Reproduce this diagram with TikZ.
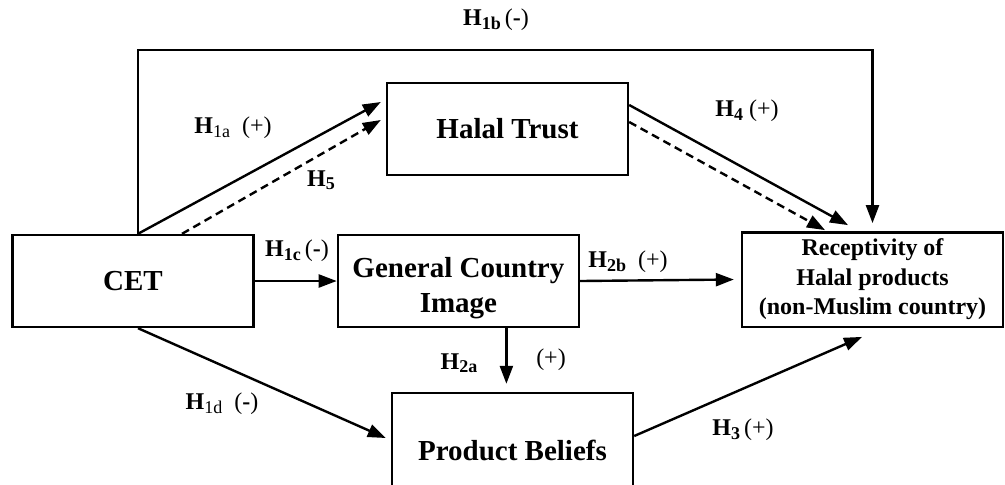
\documentclass[tikz,border=0pt]{standalone}
\usepackage{fontspec}
\setmainfont{Liberation Serif}
\usetikzlibrary{arrows.meta, positioning}

\newcommand{\hlab}[1]{\textbf{H}\raisebox{-0.3ex}{\fontsize{9}{9}\selectfont #1}}

\begin{document}
\begin{tikzpicture}[x=0.5pt, y=-0.5pt, >={Triangle[length=9pt,width=6.5pt]},
line width=1.2pt,
main box/.style={
rectangle,
draw,
minimum width=120.5pt,
minimum height=46pt,
align=center,
font=\fontsize{14.5}{17.5}\selectfont\bfseries
},
outcome box/.style={
rectangle,
draw,
minimum width=130.5pt,
minimum height=46.5pt,
align=center,
font=\fontsize{12}{14.75}\selectfont\bfseries
},
hyp label/.style={font=\fontsize{12}{14}\selectfont, inner sep=0pt},
dashed link/.style={dash pattern=on 4pt off 2.5pt}
]

\clip (0,0) rectangle (1005,484);

\node[main box] (cet) at (133,281) {CET};
\node[main box] (gci) [right=41pt of cet] {\rule{0pt}{17pt}General Country\\Image};
\node[main box] (halal) at (507.5,129) {Halal Trust};
\node[main box, minimum height=57pt] (pb) at (512.5,450) {Product Beliefs};
\node[outcome box] (rec) at (872.5,279.5) {Receptivity of\\Halal products\\(non-Muslim country)};

\coordinate (h1b top) at (500,50);
\coordinate (h2a start) at ([xshift=24pt]gci.south);

\node[hyp label] (l1b) at (496,20) {\hlab{\bfseries 1b}\,(\textbf{-})};
\node[hyp label] (l1a) at (233,128) {\hlab{1a}\ \ (+)};
\node[hyp label] (l5) at (321,180) {\hlab{\bfseries 5}};
\node[hyp label] (l4) at (747,111) {\hlab{\bfseries 4}\ (+)};
\node[hyp label] (l1c) at (297,251) {\hlab{\bfseries 1c}\,(\textbf{-})};
\node[hyp label] (l2b) at (628,262) {\hlab{\bfseries 2b}\ \ (+)};
\node[hyp label] (l2a) at (459,363) {\hlab{\bfseries 2a}};
\node[hyp label] (l2a sign) at (551,360) {(+)};
\node[hyp label] (l1d) at (222,404) {\hlab{1d}\ \ (\textbf{-})};
\node[hyp label] (l3) at (743,430) {\hlab{\bfseries 3}\,(+)};

\draw[->, shorten >=4pt] ([xshift=2.5pt]cet.north) |- (h1b top) -| (rec.north);

\draw[->] ([xshift=2.5pt]cet.north) -- ([xshift=-2.5pt,yshift=13.5pt]halal.west);
\draw[->, dashed link] ([xshift=24.5pt]cet.north) -- ([xshift=-2.5pt,yshift=4.5pt]halal.west);

\draw[->] ([yshift=12pt]halal.east) -- ([xshift=-12.25pt,yshift=3pt]rec.north);
\draw[->, dashed link] ([yshift=3.5pt]halal.east) -- ([xshift=-23.75pt,yshift=0.5pt]rec.north);

\draw[->] (cet.east) -- (gci.west);
\draw[->] (gci.east) -- ([xshift=-3.5pt]rec.west);
\draw[->, shorten >=4pt] (h2a start) -- (h2a start |- pb.north);

\draw[->] ([xshift=2.5pt]cet.south) -- ([xshift=-2.5pt,yshift=6pt]pb.west);
\draw[->] ([yshift=7pt]pb.east) -- ([xshift=-5.25pt,yshift=-4.5pt]rec.south);

\end{tikzpicture}
\end{document}
